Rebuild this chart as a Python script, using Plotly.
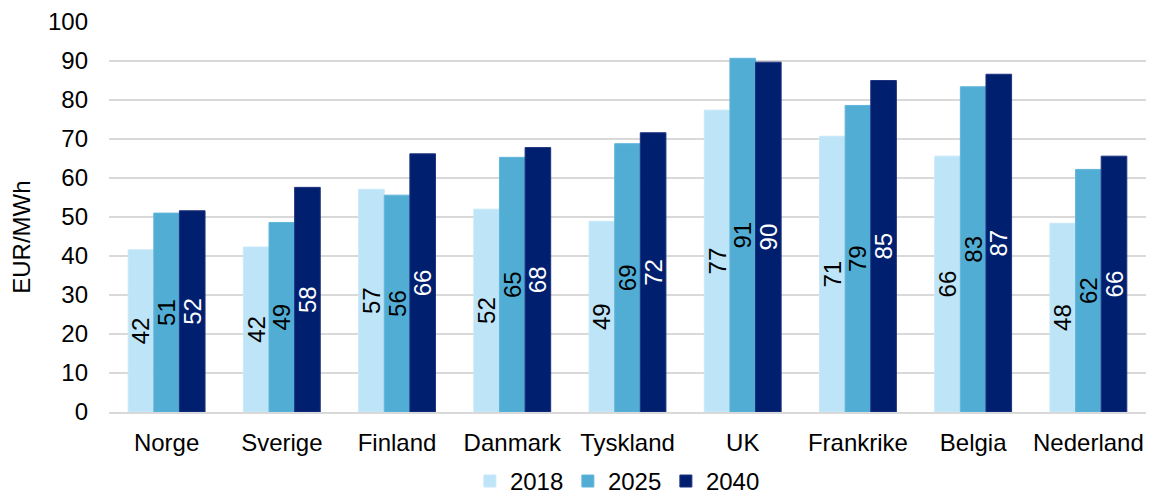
import plotly.graph_objects as go

# Price levels per area (EUR/MWh)
countries = ["Norge", "Sverige", "Finland", "Danmark", "Tyskland", "UK",
             "Frankrike", "Belgia", "Nederland"]
years = ["2018", "2025", "2040"]
v2018 = [41.6, 42.3, 57.1, 52.0, 48.9, 77.4, 70.7, 65.6, 48.4]
v2025 = [51.0, 48.6, 55.6, 65.3, 68.8, 90.7, 78.6, 83.4, 62.2]
v2040 = [51.6, 57.6, 66.2, 67.8, 71.6, 89.7, 85.0, 86.6, 65.6]
y_ticks = [0, 10, 20, 30, 40, 50, 60, 70, 80, 90, 100]

series = [v2018, v2025, v2040]
colors = ["#BDE4F7", "#52ADD5", "#001F6E"]
edge_colors = ["#C8E8F8", "#62B5DA", "#1E3380"]
label_colors = ["#000000", "#000000", "#FFFFFF"]

FONT = "Liberation Sans, Arial, sans-serif"
FS = 24

fig = go.Figure()
for name, vals, col, edge, lcol in zip(years, series, colors, edge_colors, label_colors):
    fig.add_trace(go.Bar(
        name=name,
        x=countries,
        y=vals,
        marker=dict(color=col, line=dict(color=edge, width=1)),
        texttemplate="%{y:.0f}",
        textposition="inside",
        insidetextanchor="middle",
        textangle=-90,
        textfont=dict(family=FONT, size=FS, color=lcol),
        cliponaxis=False,
    ))

fig.update_layout(
    width=1150,
    height=496,
    barmode="group",
    bargap=0.333,
    bargroupgap=0,
    plot_bgcolor="white",
    paper_bgcolor="white",
    font=dict(family=FONT, size=FS, color="#000000"),
    margin=dict(l=109, r=4, t=22, b=84, autoexpand=False),
    showlegend=True,
    legend=dict(
        orientation="h",
        x=0.348, xanchor="left",
        y=-0.178, yanchor="middle",
        font=dict(family=FONT, size=FS),
        itemwidth=30,
        entrywidth=53,
        entrywidthmode="pixels",
        traceorder="normal",
    ),
    uniformtext=dict(mode="show", minsize=FS),
    annotations=[dict(
        text="EUR/MWh",
        xref="paper", yref="paper",
        x=-0.084, y=0.449,
        xanchor="center", yanchor="middle",
        textangle=-90,
        showarrow=False,
        font=dict(family=FONT, size=FS),
    )],
)

fig.update_xaxes(
    showline=True,
    linecolor="#D9D9D9",
    linewidth=2,
    showgrid=False,
    ticks="",
    automargin=False,
    ticklabelstandoff=8,
    tickfont=dict(family=FONT, size=FS),
)
fig.update_yaxes(
    range=[0, 100],
    tickvals=y_ticks,
    showgrid=True,
    gridcolor="#D9D9D9",
    gridwidth=2,
    zeroline=False,
    showline=False,
    ticks="",
    automargin=False,
    ticklabelstandoff=20,
    tickfont=dict(family=FONT, size=FS),
)

fig.write_html("out.html")
